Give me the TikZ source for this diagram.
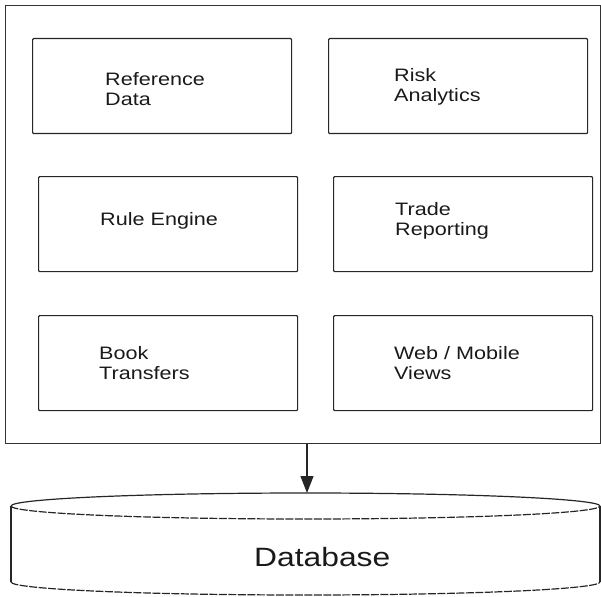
\documentclass[tikz,border=0pt]{standalone}
\usepackage{fontspec}
\setmainfont{Liberation Sans}[FakeStretch=1.2]
\usetikzlibrary{arrows.meta}
\tikzset{
  frameline/.style={draw=black!80, line width=1.4pt},
  modbox/.style={draw=black!85, line width=1.2pt, rounded corners=1pt,
    minimum width=259pt, minimum height=95pt, anchor=north west, inner sep=0pt},
  modtext/.style={anchor=base west, inner sep=0pt, align=left,
    font=\fontsize{18}{20}\selectfont, text=black!90},
  dbline/.style={draw=black!85, line width=1.2pt},
  dbfront/.style={draw=black!85, line width=1.2pt, dash pattern=on 8pt off 1.5pt},
}
\begin{document}
\begin{tikzpicture}[x=1pt,y=-1pt]
  \useasboundingbox (0,0) rectangle (601,596);

  % outer application frame
  \node[frameline, anchor=north west, minimum width=595pt, minimum height=438pt, inner sep=0pt]
    (frame) at (5,5) {};

  % module boxes
  \node[modbox] (refbox)   at (32,38)   {};
  \node[modbox] (riskbox)  at (328,38)  {};
  \node[modbox] (rulebox)  at (38,176)  {};
  \node[modbox] (tradebox) at (333,176) {};
  \node[modbox] (bookbox)  at (38,315)  {};
  \node[modbox] (webbox)   at (333,315) {};

  % module labels (anchored on the baseline of the last line)
  \node[modtext] (reft)   at (105,106) {Reference\\Data};
  \node[modtext] (riskt)  at (394,102) {Risk\\Analytics};
  \node[modtext] (rulet)  at (100,225) {Rule Engine};
  \node[modtext] (tradet) at (395,235) {Trade\\Reporting};
  \node[modtext] (bookt)  at (99,379)  {Book\\Transfers};
  \node[modtext] (webt)   at (394,379) {Web / Mobile\\Views};

  % database cylinder
  \coordinate (dbtop) at (307,493);
  \draw[dbline] (11,506) arc[start angle=180, end angle=360, x radius=294.5, y radius=13];
  \draw[dbfront] (11,506) arc[start angle=180, end angle=0, x radius=294.5, y radius=13];
  \draw[dbline] (11,506) -- (11,582);
  \draw[dbline] (600,506) -- (600,582);
  \draw[dbfront] (11,582) arc[start angle=180, end angle=0, x radius=294.5, y radius=13];
  \node[anchor=base west, inner sep=0pt, font=\fontsize{26.5}{30}\selectfont, text=black!90]
    (dbt) at (254,566) {Database};

  % connector from the application to the database
  \draw[line width=1.2pt, draw=black!85, -{Triangle[length=17pt,width=13pt]}]
    (frame.south -| dbtop) -- (dbtop);
\end{tikzpicture}
\end{document}
